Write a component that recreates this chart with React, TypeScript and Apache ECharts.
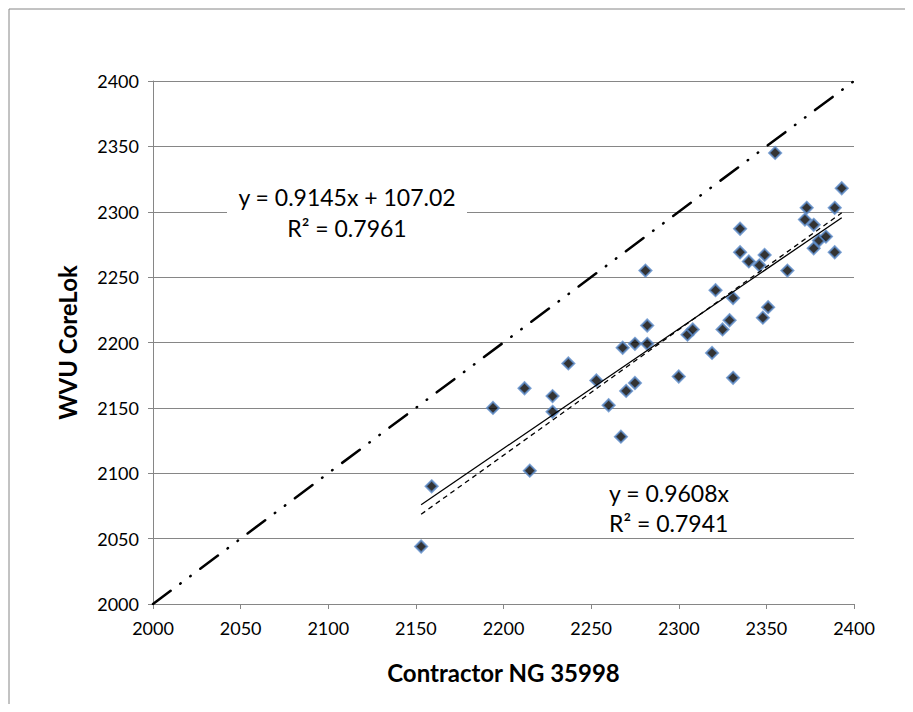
import React, { useEffect, useRef } from "react";
import * as echarts from "echarts";

// Contractor NG 35998 (x) vs WVU CoreLok (y)
const contractor = [
  2153, 2159, 2194, 2212, 2215, 2228, 2228, 2237, 2253, 2260,
  2267, 2268, 2270, 2275, 2275, 2281, 2282, 2282, 2300, 2305,
  2308, 2319, 2321, 2325, 2329, 2331, 2331, 2335, 2335, 2340,
  2346, 2349, 2348, 2351, 2355, 2362, 2372, 2373, 2377, 2377,
  2380, 2384, 2389, 2389, 2393,
];
const corelok = [
  2044, 2090, 2150, 2165, 2102, 2159, 2147, 2184, 2171, 2152,
  2128, 2196, 2163, 2199, 2169, 2255, 2199, 2213, 2174, 2206,
  2210, 2192, 2240, 2210, 2217, 2234, 2173, 2287, 2269, 2262,
  2259, 2267, 2219, 2227, 2345, 2255, 2294, 2303, 2290, 2272,
  2278, 2281, 2303, 2269, 2318,
];
// Trend line coefficients [slope, intercept]
const linearFit = [0.9145, 107.02];
const throughOriginFit = [0.9608, 0];
const equalityLine = [2000, 2400];
const axisTicks = [2000, 2400, 50];
const fitLabels = ["y = 0.9145x + 107.02", "R² = 0.7961"];
const originLabels = ["y = 0.9608x", "R² = 0.7941"];
const xTitle = "Contractor NG 35998";
const yTitle = "WVU CoreLok";

export default function App() {
  const ref = useRef<HTMLDivElement>(null);
  useEffect(() => {
    if (!ref.current) return;
    const chart = echarts.init(ref.current, undefined, { renderer: "svg" });
    const xmin = Math.min(...contractor);
    const xmax = Math.max(...contractor);
    const pts = contractor.map((x, i) => [x, corelok[i]]);
    const fitLine = [xmin, xmax].map((x) => [x, linearFit[0] * x + linearFit[1]]);
    const origLine = [xmin, xmax].map((x) => [x, throughOriginFit[0] * x + throughOriginFit[1]]);
    const eqLine = equalityLine.map((v) => [v, v]);
    const font = "Lato, 'Open Sans', sans-serif";
    const axisCommon = {
      type: "value" as const,
      min: axisTicks[0],
      max: axisTicks[1],
      interval: axisTicks[2],
      axisLine: { show: true, lineStyle: { color: "#868686", width: 1 } },
      axisTick: { show: true, inside: false, length: 5, lineStyle: { color: "#868686" } },
      nameLocation: "middle" as const,
      nameTextStyle: { color: "#000", fontSize: 24, fontWeight: "bold" as const, fontFamily: font },
    };
    chart.setOption({
      animation: false,
      backgroundColor: "#fff",
      grid: { left: 153, right: 59, top: 81, bottom: 108, containLabel: false },
      xAxis: {
        ...axisCommon,
        name: xTitle,
        nameGap: 56,
        axisLabel: { color: "#000", fontSize: 18, fontFamily: font, margin: 15, formatter: (v: number) => String(v) },
        splitLine: { show: false },
      },
      yAxis: {
        ...axisCommon,
        name: yTitle,
        nameGap: 74,
        axisLabel: { color: "#000", fontSize: 18, fontFamily: font, margin: 14, formatter: (v: number) => String(v) },
        splitLine: { show: true, lineStyle: { color: "#868686", width: 1 } },
      },
      graphic: [
        {
          type: "rect",
          shape: { x: 9, y: 9, width: 920, height: 720 },
          style: { fill: "none", stroke: "#868686", lineWidth: 1 },
          silent: true,
          z: 0,
        },
        {
          type: "rect",
          shape: { x: 227, y: 178, width: 240, height: 68 },
          style: { fill: "#fff" },
          z: 50,
        },
        {
          type: "text",
          x: 347,
          y: 197,
          style: { text: fitLabels[0], fill: "#000", font: `23px ${font}`, align: "center", verticalAlign: "middle" },
          z: 51,
        },
        {
          type: "text",
          x: 347,
          y: 228,
          style: { text: fitLabels[1], fill: "#000", font: `23px ${font}`, align: "center", verticalAlign: "middle" },
          z: 51,
        },
        {
          type: "rect",
          shape: { x: 600, y: 476, width: 140, height: 60 },
          style: { fill: "#fff" },
          z: 50,
        },
        {
          type: "text",
          x: 609,
          y: 493,
          style: { text: originLabels[0], fill: "#000", font: `23px ${font}`, align: "left", verticalAlign: "middle" },
          z: 51,
        },
        {
          type: "text",
          x: 609,
          y: 523,
          style: { text: originLabels[1], fill: "#000", font: `23px ${font}`, align: "left", verticalAlign: "middle" },
          z: 51,
        },
      ],
      series: [
        {
          type: "line",
          data: eqLine,
          symbol: "none",
          lineStyle: { color: "#000", width: 2.5, type: [22, 12, 0.5, 12, 0.5, 12], cap: "round" },
          z: 3,
        },
        {
          type: "scatter",
          data: pts,
          symbol: "diamond",
          symbolSize: 12,
          itemStyle: { color: "#000", borderColor: "#5B8BC9", borderWidth: 2 },
          z: 4,
        },
        {
          type: "line",
          data: fitLine,
          symbol: "none",
          lineStyle: { color: "#000", width: 1.3, type: "solid" },
          z: 5,
        },
        {
          type: "line",
          data: origLine,
          symbol: "none",
          lineStyle: { color: "#000", width: 1.3, type: [5, 4] },
          z: 5,
        },
      ],
    });
    return () => chart.dispose();
  }, []);
  return <div ref={ref} style={{ width: 913, height: 712, margin: -8 }} />;
}
